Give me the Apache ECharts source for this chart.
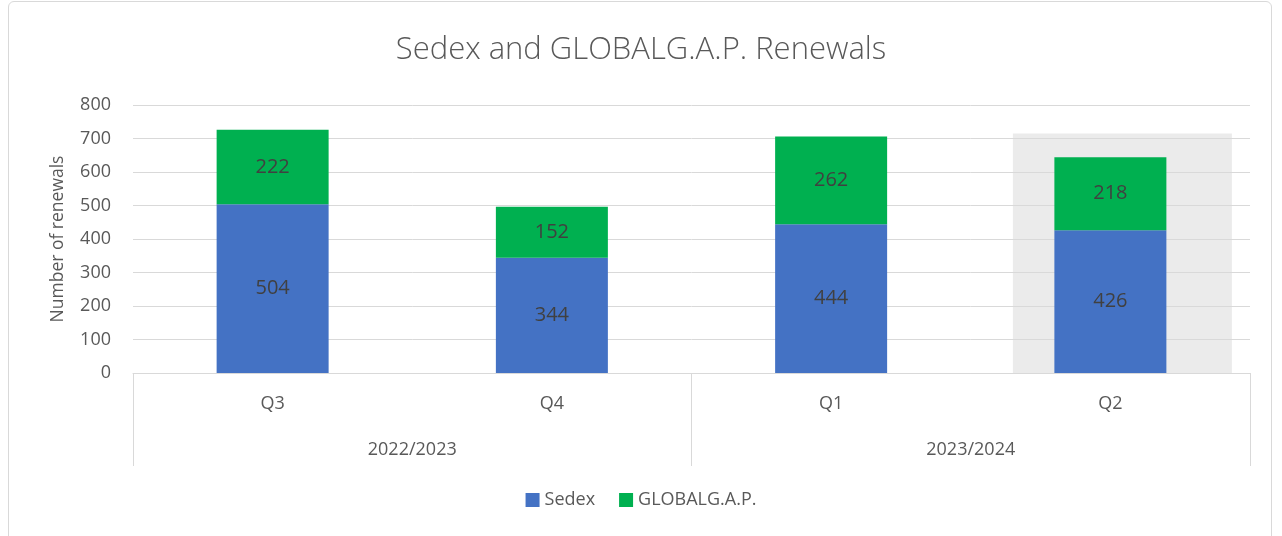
<!DOCTYPE html>
<html lang="en">
<head>
  <meta charset="UTF-8">
  <title>Sedex and GLOBALG.A.P. Renewals</title>
  <script src="https://cdn.jsdelivr.net/npm/echarts@6/dist/echarts.min.js"></script>
  <style>
    html, body { margin: 0; padding: 0; background: #fff; }
    #frame {
      position: absolute; left: 8px; top: 1px; width: 1264px; height: 545px;
      border: 1px solid #d9d9d9; border-radius: 6px; box-sizing: border-box;
    }
    #chart { position: absolute; left: 0; top: 0; width: 1282px; height: 536px; }
  </style>
</head>
<body>
<div id="frame"></div>
<div id="chart"></div>
<script>
  // data
  const quarters = ['Q3', 'Q4', 'Q1', 'Q2'];
  const years = ['2022/2023', '2023/2024'];
  const sedex = [504, 344, 444, 426];
  const globalgap = [222, 152, 262, 218];
  const highlight = [null, null, null, 715];   // grey band behind the latest quarter

  const font = '"Open Sans", "Noto Sans", sans-serif';
  const grey = '#595959';

  const chart = echarts.init(document.getElementById('chart'));

  const option = {
    textStyle: { fontFamily: font },
    title: {
      text: 'Sedex and GLOBALG.A.P. Renewals',
      left: 'center',
      top: 30,
      textStyle: { fontFamily: font, fontSize: 31, fontWeight: 300, color: grey }
    },
    legend: {
      bottom: 22,
      left: 'center',
      itemWidth: 14,
      itemHeight: 14,
      itemGap: 24,
      icon: 'rect',
      data: ['Sedex', 'GLOBALG.A.P.'],
      textStyle: { fontFamily: font, fontSize: 18, color: grey }
    },
    grid: { left: 133, right: 32, top: 105, bottom: 163 },
    xAxis: [
      {
        type: 'category',
        data: quarters,
        position: 'bottom',
        axisLine: { show: true, lineStyle: { color: '#d9d9d9', width: 1 } },
        axisTick: { show: false },
        axisLabel: { margin: 22, fontSize: 18, color: grey, fontFamily: font }
      },
      {
        type: 'category',
        data: years,
        position: 'bottom',
        axisLine: { show: false },
        axisTick: { show: true, length: 93, lineStyle: { color: '#d9d9d9' } },
        axisLabel: { margin: 68, fontSize: 18, color: grey, fontFamily: font }
      },
      {
        type: 'category',
        data: quarters,
        show: false
      }
    ],
    yAxis: {
      type: 'value',
      min: 0,
      max: 800,
      interval: 100,
      name: 'Number of renewals',
      nameLocation: 'middle',
      nameGap: 66,
      nameTextStyle: { fontSize: 17.5, color: grey, fontFamily: font },
      axisLine: { show: false },
      axisTick: { show: false },
      axisLabel: { margin: 22, fontSize: 18, color: grey, fontFamily: font },
      splitLine: { lineStyle: { color: '#d9d9d9', width: 1 } }
    },
    series: [
      {
        // empty spacer so the grey band sits a little right of the bar centre
        name: 'spacer',
        type: 'bar',
        xAxisIndex: 2,
        data: [null, null, null, null],
        barWidth: 24,
        barGap: '0%',
        silent: true
      },
      {
        name: 'highlight',
        type: 'bar',
        xAxisIndex: 2,
        data: highlight,
        barWidth: 219,
        barGap: '0%',
        z: -1,
        silent: true,
        itemStyle: { color: '#ebebeb' }
      },
      {
        name: 'Sedex',
        type: 'bar',
        stack: 'total',
        data: sedex,
        barWidth: 112,
        itemStyle: { color: '#4472C4' },
        label: { show: true, position: 'inside', fontSize: 20, color: '#404040', fontFamily: font }
      },
      {
        name: 'GLOBALG.A.P.',
        type: 'bar',
        stack: 'total',
        data: globalgap,
        barWidth: 112,
        itemStyle: { color: '#00B050' },
        label: { show: true, position: 'inside', fontSize: 20, color: '#404040', fontFamily: font }
      }
    ]
  };

  chart.setOption(option);
</script>
</body>
</html>
